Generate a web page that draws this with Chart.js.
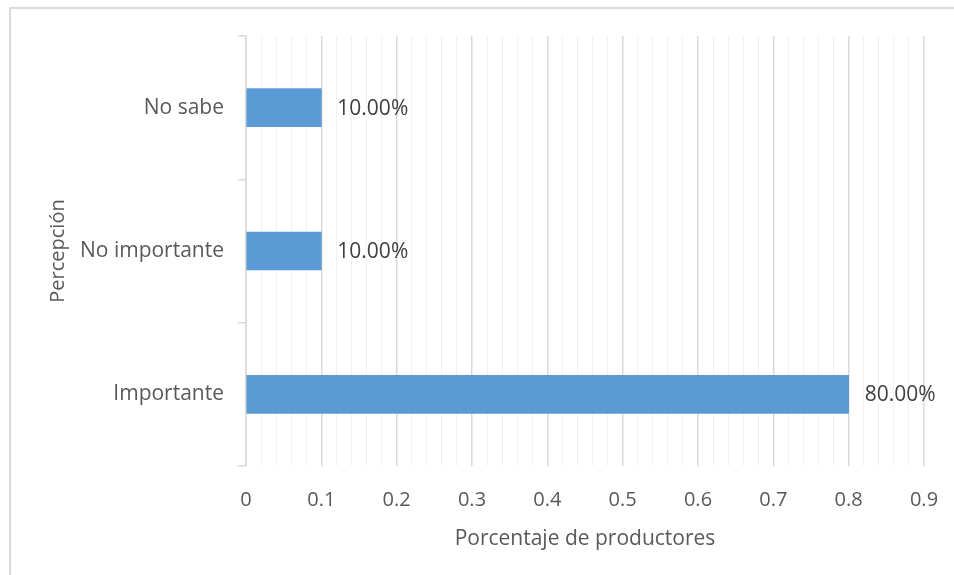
<!DOCTYPE html>
<html>
<head>
<meta charset="utf-8">
<script src="https://cdn.jsdelivr.net/npm/chart.js@4.4.1/dist/chart.umd.min.js"></script>
<style>
  html, body { margin: 0; padding: 0; background: #fff; }
  #wrap { position: relative; width: 954px; height: 575px; }
  #frame { position: absolute; left: 9px; top: 7px; right: 0; bottom: 0; border-top: 2px solid #d9d9d9; border-left: 2px solid #d9d9d9; pointer-events: none; }
</style>
</head>
<body>
<div id="wrap">
  <canvas id="chart" width="954" height="575"></canvas>
  <div id="frame"></div>
</div>
<script>
const categories = ['No sabe', 'No importante', 'Importante'];
const values = [0.1, 0.1, 0.8];
const xTickLabels = ['0', '0.1', '0.2', '0.3', '0.4', '0.5', '0.6', '0.7', '0.8', '0.9'];
const xTitle = 'Porcentaje de productores';
const yTitle = 'Percepción';

const FONT = "'Open Sans', sans-serif";

// value labels next to each bar end
const barLabels = {
  id: 'barLabels',
  afterDatasetsDraw(chart) {
    const ctx = chart.ctx;
    const meta = chart.getDatasetMeta(0);
    ctx.save();
    ctx.font = '21px ' + FONT;
    ctx.fillStyle = '#404040';
    ctx.textAlign = 'left';
    ctx.textBaseline = 'middle';
    meta.data.forEach((bar, i) => {
      ctx.fillText((values[i] * 100).toFixed(2) + '%', bar.x + 16, bar.y + 1);
    });
    ctx.restore();
  }
};

new Chart(document.getElementById('chart'), {
  type: 'bar',
  data: {
    labels: categories,
    datasets: [{
      data: values,
      backgroundColor: '#5b9bd5',
      barThickness: 38
    }]
  },
  options: {
    indexAxis: 'y',
    responsive: false,
    animation: false,
    layout: { padding: { left: 46, top: 36, right: 30, bottom: 18 } },
    plugins: { legend: { display: false }, tooltip: { enabled: false } },
    scales: {
      x: {
        min: 0,
        max: 0.9,
        afterFit(scale) { scale.height = 91; scale.paddingRight = 0; },
        afterBuildTicks(scale) {
          const t = [];
          for (let i = 0; i <= 45; i++) t.push({ value: i / 50 });
          scale.ticks = t;
        },
        border: { display: false },
        grid: {
          drawTicks: false,
          color: ctx => (ctx.index % 5 === 0 ? '#d9d9d9' : '#f2f2f2'),
          lineWidth: ctx => (ctx.index % 5 === 0 ? 1.5 : 1)
        },
        ticks: {
          autoSkip: false,
          maxRotation: 0,
          padding: 22,
          color: '#595959',
          font: { family: FONT, size: 20 },
          callback: (v, i) => (i % 5 === 0 ? xTickLabels[i / 5] : '')
        },
        title: {
          display: true,
          text: xTitle,
          color: '#595959',
          font: { family: FONT, size: 21 },
          padding: { top: 4, bottom: 5 }
        }
      },
      y: {
        afterFit(scale) { scale.width = 200; },
        border: { display: true, color: '#d9d9d9', width: 1.5 },
        grid: {
          offset: true,
          drawOnChartArea: false,
          drawTicks: true,
          tickLength: 8,
          color: '#d9d9d9',
          lineWidth: 1.5
        },
        ticks: {
          padding: 14,
          color: '#595959',
          font: { family: FONT, size: 21 }
        },
        title: {
          display: true,
          text: yTitle,
          color: '#595959',
          font: { family: FONT, size: 20 },
          padding: { top: 0, bottom: 4 }
        }
      }
    }
  },
  plugins: [barLabels]
});
</script>
</body>
</html>
